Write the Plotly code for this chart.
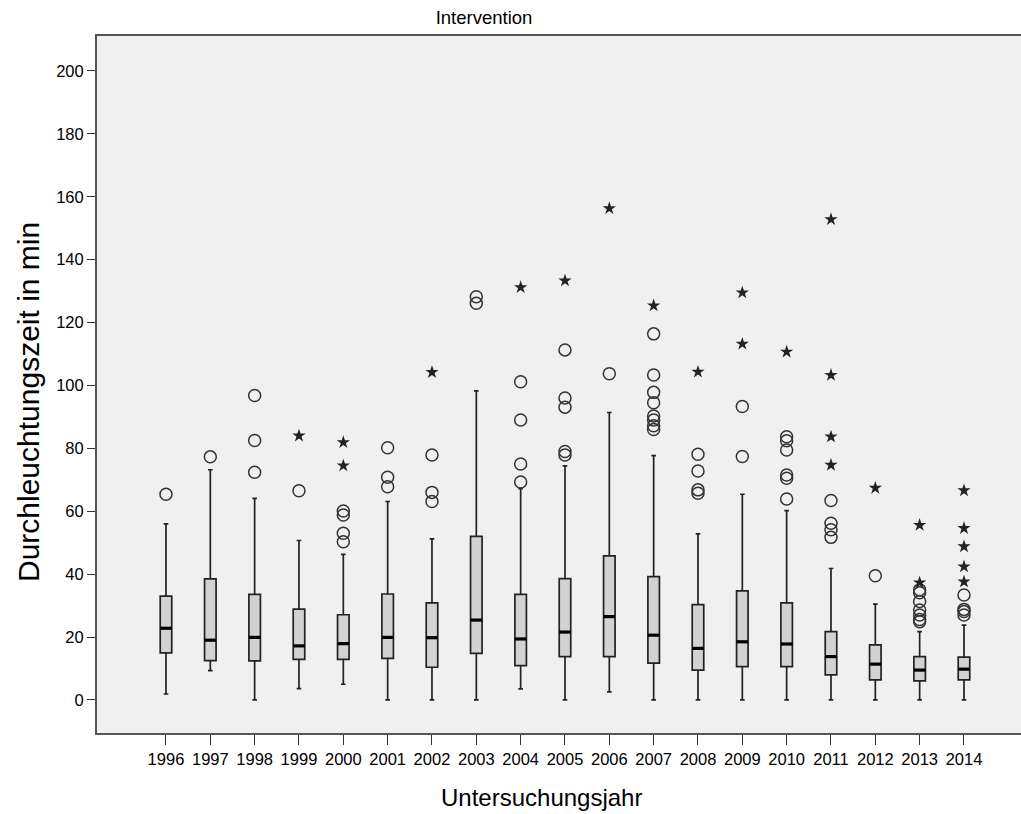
import plotly.graph_objects as go

years = [str(y) for y in range(1996, 2015)]

q1 = [15.0, 12.5, 12.4, 12.9, 12.9, 13.2, 10.4, 14.8, 10.9, 13.8, 13.8, 11.7, 9.5, 10.6, 10.6, 8.0, 6.4, 6.1, 6.4]
median = [22.8, 19.0, 19.9, 17.2, 17.9, 19.9, 19.8, 25.4, 19.4, 21.6, 26.5, 20.6, 16.4, 18.5, 17.8, 13.8, 11.4, 9.5, 9.8]
q3 = [33.0, 38.5, 33.6, 28.9, 27.1, 33.7, 30.9, 52.0, 33.6, 38.6, 45.8, 39.2, 30.3, 34.7, 30.9, 21.7, 17.5, 13.8, 13.6]
lower_whisker = [1.9, 9.3, 0, 3.6, 5.0, 0, 0, 0, 3.5, 0, 2.6, 0, 0, 0, 0, 0, 0, 0, 0]
upper_whisker = [56.0, 73.2, 64.1, 50.7, 46.3, 63.1, 51.2, 98.3, 67.2, 74.4, 91.4, 77.7, 52.8, 65.4, 60.2, 41.8, 30.5, 21.7, 23.8]

circle_outliers = [
    [65.4],
    [77.3],
    [96.8, 82.5, 72.4],
    [66.5],
    [60.1, 58.8, 53.0, 50.3],
    [80.2, 70.8, 67.8],
    [77.9, 66.0, 63.1],
    [128.2, 126.1],
    [101.2, 89.0, 75.0, 69.3],
    [111.3, 96.0, 93.1, 79.0, 77.9],
    [103.7],
    [116.4, 103.3, 97.8, 94.5, 90.3, 89.0, 87.2, 86.0],
    [78.1, 72.8, 66.8, 65.7],
    [93.3, 77.4],
    [83.7, 82.4, 79.5, 71.5, 70.5, 63.9],
    [63.4, 56.2, 54.1, 51.7],
    [39.5],
    [35.0, 34.1, 31.3, 28.6, 27.0, 25.6, 24.9],
    [33.4, 28.8, 28.1, 27.0],
]

star_outliers = [
    [],
    [],
    [],
    [84.0],
    [81.9, 74.5],
    [],
    [104.2],
    [],
    [131.2],
    [133.3],
    [156.3],
    [125.4],
    [104.3],
    [129.5, 113.2],
    [110.7],
    [152.8, 103.3, 83.7, 74.7],
    [67.4],
    [55.6, 37.3],
    [66.6, 54.6, 48.8, 42.4, 37.6],
]

y_ticks = list(range(0, 201, 20))

pos = list(range(len(years)))
box_w = 0.26

fig = go.Figure()

fig.add_trace(go.Box(
    x=pos, q1=q1, median=median, q3=q3,
    lowerfence=lower_whisker, upperfence=upper_whisker,
    boxpoints=False, width=box_w, whiskerwidth=0.4,
    fillcolor="#d2d2d2",
    line=dict(color="#222222", width=1.7),
    showlegend=False, hoverinfo="skip",
))

# thicker black median bars
mx, my = [], []
for i, m in zip(pos, median):
    mx += [i - box_w / 2, i + box_w / 2, None]
    my += [m, m, None]
fig.add_trace(go.Scatter(x=mx, y=my, mode="lines",
                         line=dict(color="black", width=3.2),
                         showlegend=False, hoverinfo="skip"))

cx, cy = [], []
for i, vals in zip(pos, circle_outliers):
    cx += [i] * len(vals)
    cy += vals
fig.add_trace(go.Scatter(x=cx, y=cy, mode="markers",
                         marker=dict(symbol="circle-open", size=12,
                                     color="#333333", line=dict(width=1.5)),
                         showlegend=False))

sx, sy = [], []
for i, vals in zip(pos, star_outliers):
    sx += [i] * len(vals)
    sy += vals
fig.add_trace(go.Scatter(x=sx, y=sy, mode="markers",
                         marker=dict(symbol="star", size=10, color="#222222",
                                     line=dict(width=0)),
                         showlegend=False))

font_family = "Liberation Sans, Arial, sans-serif"

fig.update_layout(
    width=1021, height=814,
    margin=dict(l=97, r=0, t=36, b=81),
    paper_bgcolor="white",
    plot_bgcolor="#f0f0f0",
    font=dict(family=font_family, color="black", size=16),
    title=dict(text="Intervention", x=484 / 1021, xref="container",
               xanchor="center", y=1 - 18 / 814, yref="container",
               yanchor="middle", font=dict(size=18.5, family=font_family)),
    xaxis=dict(
        range=[-1.556, 19.286],
        tickmode="array", tickvals=pos, ticktext=years,
        ticks="outside", ticklen=10, tickwidth=1.3, tickcolor="#333333",
        showline=True, linecolor="#555555", linewidth=2, mirror=True,
        showgrid=False, zeroline=False,
        tickfont=dict(size=16.5),
    ),
    yaxis=dict(
        range=[-10.5, 211.1],
        tickmode="array", tickvals=y_ticks,
        ticks="outside", ticklen=8, tickwidth=1.3, tickcolor="#333333",
        showline=True, linecolor="#555555", linewidth=2,
        showgrid=False, zeroline=False,
        tickfont=dict(size=16.5),
    ),
    annotations=[
        dict(text="Untersuchungsjahr", xref="paper", yref="paper",
             x=(541 - 97) / 924, y=(733 - 797) / 697,
             xanchor="center", yanchor="middle", showarrow=False,
             font=dict(size=24, family=font_family)),
        dict(text="Durchleuchtungszeit in min", xref="paper", yref="paper",
             x=(28 - 97) / 924, y=(733 - 402) / 697, textangle=-90,
             xanchor="center", yanchor="middle", showarrow=False,
             font=dict(size=30, family=font_family)),
    ],
)

fig.write_html("out.html")
